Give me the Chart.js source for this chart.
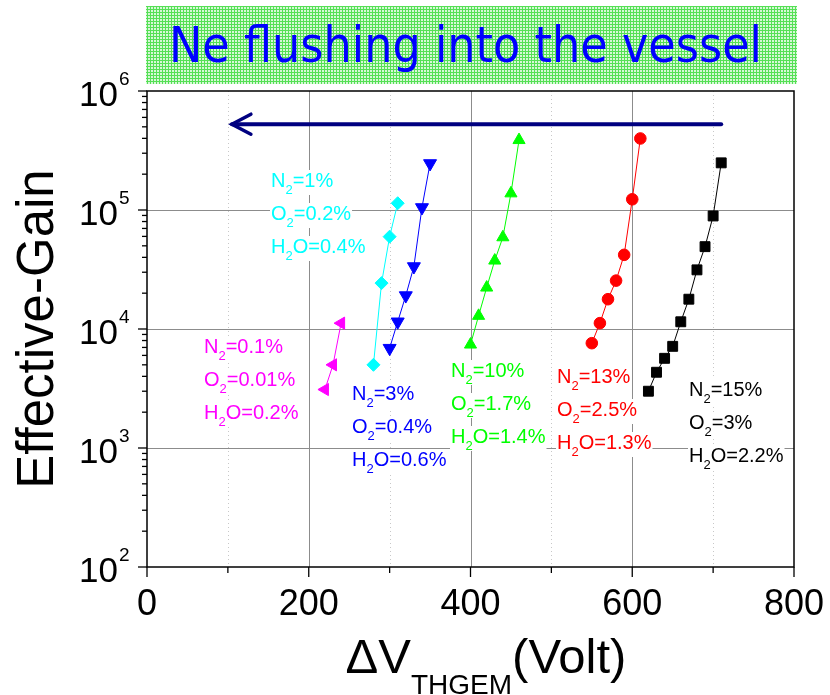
<!DOCTYPE html>
<html lang="en">
<head>
    <meta charset="UTF-8">
    <title>Effective Gain vs THGEM voltage</title>
    <script src="https://cdn.jsdelivr.net/npm/chart.js@4.4.0/dist/chart.umd.min.js"></script>
    <style>
        html, body { margin: 0; padding: 0; background: #fff; }
        #wrap { width: 830px; height: 695px; }
    </style>
</head>
<body>
<div id="wrap"><canvas id="gainChart" width="830" height="695"></canvas></div>

<script>
    // values
    var magentaV = [220, 230, 240];
    var magentaGain = [3100, 5000, 11200];
    var cyanV = [280, 290, 300, 310];
    var cyanGain = [5000, 24300, 59700, 114000];
    var blueV = [300, 310, 320, 330, 340, 350];
    var blueGain = [6900, 11500, 19100, 33500, 105000, 246000];
    var greenV = [400, 410, 420, 430, 440, 450, 460];
    var greenGain = [7400, 12900, 22300, 37600, 59000, 138000, 387000];
    var redV = [550, 560, 570, 580, 590, 600, 610];
    var redGain = [7600, 11200, 17800, 25500, 42000, 123000, 399000];
    var blackV = [620, 630, 640, 650, 660, 670, 680, 690, 700, 710];
    var blackGain = [3000, 4330, 5670, 7150, 11500, 17800, 31400, 49200, 89100, 249000];

    // axis ticks
    var xTicks = [0, 200, 400, 600, 800];
    var xMinorTicks = [100, 300, 500, 700];
    var yTickExp = [2, 3, 4, 5, 6];

    // arrow (from -> to)
    var arrowV = [710, 105];
    var arrowGain = [526000, 526000];

    // gas mixture notes, "_x" means subscript x
    var magentaNote = ['N_2=0.1%', 'O_2=0.01%', 'H_2O=0.2%'];
    var cyanNote = ['N_2=1%', 'O_2=0.2%', 'H_2O=0.4%'];
    var blueNote = ['N_2=3%', 'O_2=0.4%', 'H_2O=0.6%'];
    var greenNote = ['N_2=10%', 'O_2=1.7%', 'H_2O=1.4%'];
    var redNote = ['N_2=13%', 'O_2=2.5%', 'H_2O=1.3%'];
    var blackNote = ['N_2=15%', 'O_2=3%', 'H_2O=2.2%'];

    var titleText = 'Ne flushing into the vessel';

    var ARIAL = '"Liberation Sans", Arial, sans-serif';

    function pts(xs, ys) {
        return xs.map(function (x, i) { return { x: x, y: ys[i] }; });
    }

    function makeSet(label, xs, ys, color, style, rot, r) {
        return {
            label: label,
            data: pts(xs, ys),
            showLine: true,
            borderColor: color,
            backgroundColor: color,
            borderWidth: 1,
            pointStyle: style,
            rotation: rot,
            pointRadius: r,
            pointHoverRadius: r,
            pointBorderWidth: 1
        };
    }

    // notes: text, colour, left x, first baseline (pixels)
    var notes = [
        { lines: magentaNote, color: '#ff00ff', x: 204, y: 353 },
        { lines: cyanNote, color: '#00ffff', x: 271, y: 187 },
        { lines: blueNote, color: '#0000ff', x: 352, y: 400 },
        { lines: greenNote, color: '#00ff00', x: 451, y: 377 },
        { lines: redNote, color: '#ff0000', x: 557, y: 383 },
        { lines: blackNote, color: '#000000', x: 689, y: 396 }
    ];

    function splitRich(str) {
        var parts = [], buf = '';
        for (var i = 0; i < str.length; i++) {
            if (str[i] === '_') {
                if (buf) parts.push([buf, false]);
                parts.push([str[i + 1], true]);
                buf = '';
                i++;
            } else {
                buf += str[i];
            }
        }
        if (buf) parts.push([buf, false]);
        return parts;
    }

    function drawRich(ctx, str, x, y, color) {
        var big = '20px ' + ARIAL, small = '13px ' + ARIAL;
        var parts = splitRich(str);
        var w = 0;
        parts.forEach(function (p) {
            ctx.font = p[1] ? small : big;
            w += ctx.measureText(p[0]).width;
        });
        ctx.fillStyle = '#fff';
        ctx.fillRect(x - 1, y - 17, w + 2, 25);
        ctx.fillStyle = color;
        ctx.textAlign = 'left';
        ctx.textBaseline = 'alphabetic';
        var cx = x;
        parts.forEach(function (p) {
            ctx.font = p[1] ? small : big;
            ctx.fillText(p[0], cx, p[1] ? y + 7 : y);
            cx += ctx.measureText(p[0]).width;
        });
    }

    var framePlugin = {
        id: 'frame',
        beforeDatasetsDraw: function (chart) {
            var ctx = chart.ctx, a = chart.chartArea;
            var xs = chart.scales.x, ys = chart.scales.y;
            ctx.save();
            // minor x grid, dotted
            ctx.strokeStyle = '#c8c8c8';
            ctx.lineWidth = 1;
            ctx.setLineDash([1, 3]);
            xMinorTicks.forEach(function (v) {
                var px = Math.round(xs.getPixelForValue(v)) + 0.5;
                ctx.beginPath(); ctx.moveTo(px, a.top); ctx.lineTo(px, a.bottom); ctx.stroke();
            });
            ctx.setLineDash([]);
            // major grid
            ctx.strokeStyle = '#8c8c8c';
            xTicks.slice(1, -1).forEach(function (v) {
                var px = Math.round(xs.getPixelForValue(v)) + 0.5;
                ctx.beginPath(); ctx.moveTo(px, a.top); ctx.lineTo(px, a.bottom); ctx.stroke();
            });
            yTickExp.slice(1, -1).forEach(function (e) {
                var py = Math.round(ys.getPixelForValue(Math.pow(10, e))) + 0.5;
                ctx.beginPath(); ctx.moveTo(a.left, py); ctx.lineTo(a.right, py); ctx.stroke();
            });
            // notes with white boxes
            notes.forEach(function (n) {
                n.lines.forEach(function (line, i) {
                    drawRich(ctx, line, n.x, n.y + i * 33, n.color);
                });
            });
            ctx.restore();
        },
        afterDatasetsDraw: function (chart) {
            var ctx = chart.ctx, a = chart.chartArea;
            var xs = chart.scales.x, ys = chart.scales.y;
            ctx.save();

            // arrow
            var x0 = xs.getPixelForValue(arrowV[0]), y0 = ys.getPixelForValue(arrowGain[0]);
            var x1 = xs.getPixelForValue(arrowV[1]), y1 = ys.getPixelForValue(arrowGain[1]);
            ctx.strokeStyle = '#000080';
            ctx.lineWidth = 4;
            ctx.lineCap = 'round';
            ctx.beginPath(); ctx.moveTo(x0, y0); ctx.lineTo(x1, y1); ctx.stroke();
            ctx.lineWidth = 3.5;
            ctx.beginPath();
            ctx.moveTo(x1 + 19, y1 - 10); ctx.lineTo(x1, y1); ctx.lineTo(x1 + 19, y1 + 10);
            ctx.stroke();
            ctx.lineCap = 'butt';

            // frame
            ctx.strokeStyle = '#000';
            ctx.lineWidth = 1.5;
            ctx.strokeRect(a.left, a.top, a.right - a.left, a.bottom - a.top);

            // x ticks + labels
            ctx.lineWidth = 1.3;
            xTicks.forEach(function (v) {
                var px = xs.getPixelForValue(v);
                ctx.beginPath(); ctx.moveTo(px, a.bottom); ctx.lineTo(px, a.bottom + 10); ctx.stroke();
            });
            xMinorTicks.forEach(function (v) {
                var px = xs.getPixelForValue(v);
                ctx.beginPath(); ctx.moveTo(px, a.bottom); ctx.lineTo(px, a.bottom + 6); ctx.stroke();
            });
            ctx.fillStyle = '#000';
            ctx.font = '36px ' + ARIAL;
            ctx.textAlign = 'center';
            ctx.textBaseline = 'alphabetic';
            xTicks.forEach(function (v) {
                ctx.fillText(String(v), xs.getPixelForValue(v), a.bottom + 48);
            });

            // y ticks + labels
            yTickExp.forEach(function (e) {
                var py = ys.getPixelForValue(Math.pow(10, e));
                ctx.beginPath(); ctx.moveTo(a.left - 9, py); ctx.lineTo(a.left, py); ctx.stroke();
                if (e < yTickExp[yTickExp.length - 1]) {
                    for (var m = 2; m <= 9; m++) {
                        var pm = ys.getPixelForValue(m * Math.pow(10, e));
                        ctx.beginPath(); ctx.moveTo(a.left - 5, pm); ctx.lineTo(a.left, pm); ctx.stroke();
                    }
                }
                ctx.font = '35px ' + ARIAL;
                ctx.textAlign = 'right';
                ctx.fillText('10', a.left - 29, py + 15);
                ctx.font = '19px ' + ARIAL;
                ctx.textAlign = 'left';
                ctx.fillText(String(e), a.left - 28, py - 6);
            });

            // y title
            ctx.save();
            ctx.translate(53, (a.top + a.bottom) / 2);
            ctx.rotate(-Math.PI / 2);
            ctx.font = '51px ' + ARIAL;
            ctx.textAlign = 'center';
            ctx.fillText('Effective-Gain', 0, 0);
            ctx.restore();

            // x title: ΔV_THGEM(Volt)
            var segs = [['\u0394V', '49px ' + ARIAL, 0], ['THGEM', '28px ' + ARIAL, 21], ['(Volt)', '49px ' + ARIAL, 0]];
            var tw = 0;
            segs.forEach(function (s) { ctx.font = s[1]; tw += ctx.measureText(s[0]).width; });
            var tx = 486 - tw / 2;
            ctx.textAlign = 'left';
            segs.forEach(function (s) {
                ctx.font = s[1];
                ctx.fillText(s[0], tx, 673 + s[2]);
                tx += ctx.measureText(s[0]).width;
            });

            // title banner
            var pc = document.createElement('canvas');
            pc.width = 3; pc.height = 3;
            var g = pc.getContext('2d');
            g.fillStyle = '#d6f8d6'; g.fillRect(0, 0, 3, 3);
            g.fillStyle = '#55e055'; g.fillRect(0, 0, 3, 1); g.fillRect(0, 0, 1, 3);
            ctx.fillStyle = ctx.createPattern(pc, 'repeat');
            ctx.fillRect(146, 6, 651, 78);
            ctx.fillStyle = '#0000ff';
            ctx.font = '50px "Comic Sans MS", "DejaVu Sans", sans-serif';
            ctx.textAlign = 'left';
            ctx.fillText(titleText, 169, 62, 593);

            ctx.restore();
        }
    };

    var ctx = document.getElementById('gainChart').getContext('2d');
    var gainChart = new Chart(ctx, {
        type: 'scatter',
        data: {
            datasets: [
                makeSet('magenta', magentaV, magentaGain, '#ff00ff', 'triangle', 270, 7),
                makeSet('cyan', cyanV, cyanGain, '#00ffff', 'rectRot', 0, 6.5),
                makeSet('blue', blueV, blueGain, '#0000ff', 'triangle', 180, 7.5),
                makeSet('green', greenV, greenGain, '#00ff00', 'triangle', 0, 7),
                makeSet('red', redV, redGain, '#ff0000', 'circle', 0, 5.8),
                makeSet('black', blackV, blackGain, '#000000', 'rect', 0, 7)
            ]
        },
        options: {
            responsive: false,
            animation: false,
            events: [],
            layout: { padding: { left: 147, right: 36, top: 91, bottom: 128 } },
            plugins: { legend: { display: false }, tooltip: { enabled: false } },
            scales: {
                x: { type: 'linear', min: 0, max: 800, display: false },
                y: { type: 'logarithmic', min: 100, max: 1000000, display: false }
            }
        },
        plugins: [framePlugin]
    });
</script>
</body>
</html>
